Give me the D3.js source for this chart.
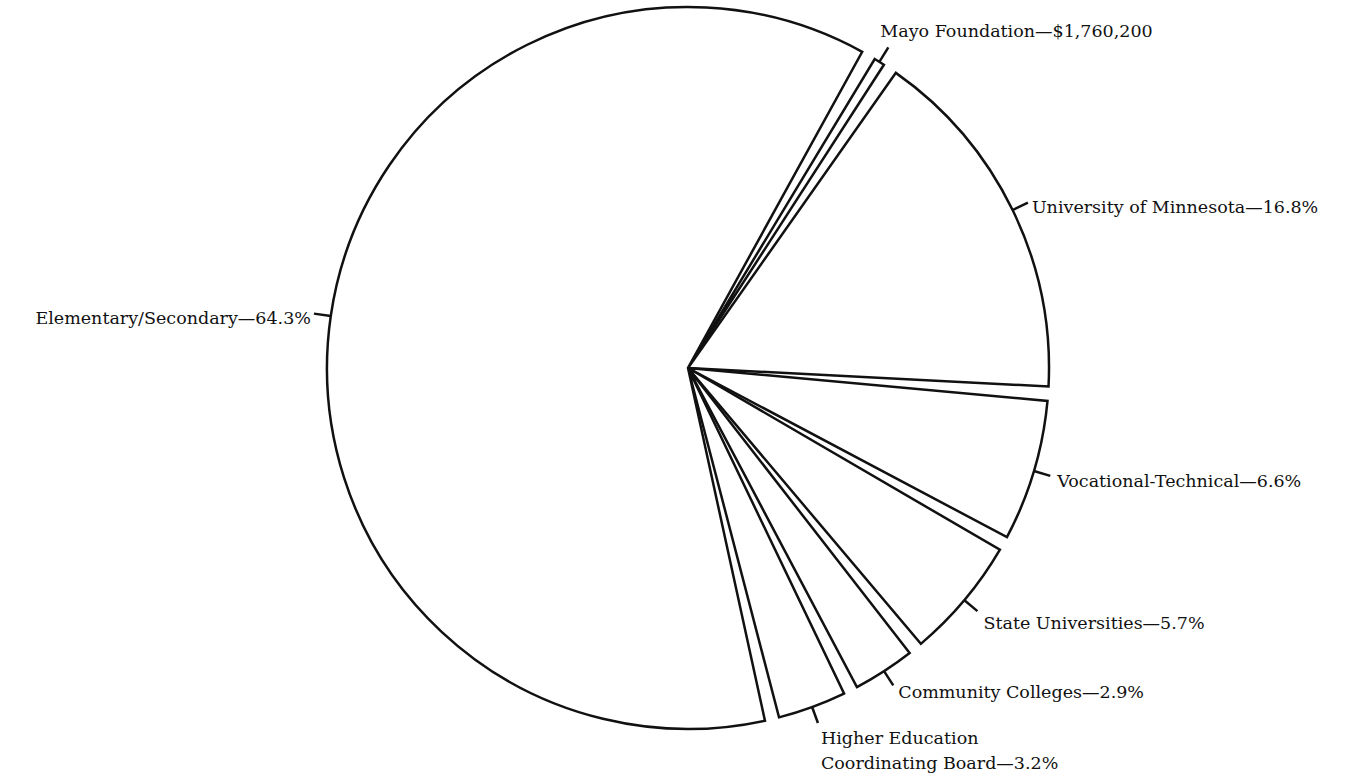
<!DOCTYPE html>
<html>
<head>
<meta charset="utf-8">
<script src="https://cdn.jsdelivr.net/npm/d3@7"></script>
<style>
  html, body { margin: 0; padding: 0; background: #fff; }
  svg text { font-family: "DejaVu Serif", "Liberation Serif", serif; font-size: 17.5px; fill: #111; }
</style>
</head>
<body>
<div id="chart"></div>
<script>
// Data (clockwise from the top-right)
const categories = [
    'Mayo Foundation',
    'University of Minnesota',
    'Vocational-Technical',
    'State Universities',
    'Community Colleges',
    'Higher Education Coordinating Board',
    'Elementary/Secondary'
];
const shares = [0.5, 16.8, 6.6, 5.7, 2.9, 3.2, 64.3];
const labelLines = [
    ['Mayo Foundation\u2014$1,760,200'],
    ['University of Minnesota\u201416.8%'],
    ['Vocational-Technical\u20146.6%'],
    ['State Universities\u20145.7%'],
    ['Community Colleges\u20142.9%'],
    ['Higher Education', 'Coordinating Board\u20143.2%'],
    ['Elementary/Secondary\u201464.3%']
];

// label placement relative to the end of each leader tick
const labelLayout = [
    { dx: -8, dy: -10, anchor: 'start' },
    { dx: 4, dy: 10, anchor: 'start' },
    { dx: 7, dy: 11, anchor: 'start' },
    { dx: 6, dy: 18, anchor: 'start' },
    { dx: 5, dy: 13, anchor: 'start' },
    { dx: 3, dy: 21, anchor: 'start' },
    { dx: -3, dy: 10, anchor: 'end' }
];

const WIDTH = 1364, HEIGHT = 775;
const CX = 688, CY = 368, R = 361, TICK = 17;

const svg = d3.select('#chart').append('svg')
    .attr('width', WIDTH)
    .attr('height', HEIGHT);

const g = svg.append('g')
    .attr('transform', `translate(${CX},${CY})`);

const start = 30 * Math.PI / 180;
const pie = d3.pie()
    .sort(null)
    .value(d => d)
    .padAngle(0.04)
    .startAngle(start)
    .endAngle(start + 2 * Math.PI);

const arcs = pie(shares);

const arc = d3.arc()
    .innerRadius(0)
    .outerRadius(R);

// Slices
g.selectAll('path.slice')
    .data(arcs)
    .enter()
    .append('path')
    .attr('class', 'slice')
    .attr('d', arc)
    .attr('fill', '#fff')
    .attr('stroke', '#111')
    .attr('stroke-width', 2.5)
    .attr('stroke-linejoin', 'miter');

// Leader ticks
const mid = d => (d.startAngle + d.endAngle) / 2;

g.selectAll('line.tick')
    .data(arcs)
    .enter()
    .append('line')
    .attr('class', 'tick')
    .attr('x1', d => d3.pointRadial(mid(d), R)[0])
    .attr('y1', d => d3.pointRadial(mid(d), R)[1])
    .attr('x2', d => d3.pointRadial(mid(d), R + TICK)[0])
    .attr('y2', d => d3.pointRadial(mid(d), R + TICK)[1])
    .attr('stroke', '#111')
    .attr('stroke-width', 2.5);

// Labels
const labels = g.selectAll('text.label')
    .data(arcs)
    .enter()
    .append('text')
    .attr('class', 'label')
    .attr('text-anchor', (d, i) => labelLayout[i].anchor)
    .attr('x', (d, i) => d3.pointRadial(mid(d), R + TICK)[0] + labelLayout[i].dx)
    .attr('y', (d, i) => d3.pointRadial(mid(d), R + TICK)[1] + labelLayout[i].dy);

labels.each(function(d, i) {
    const t = d3.select(this);
    const x = t.attr('x');
    labelLines[i].forEach((line, j) => {
        t.append('tspan')
            .attr('x', x)
            .attr('dy', j === 0 ? 0 : 25)
            .text(line);
    });
});
</script>
</body>
</html>
